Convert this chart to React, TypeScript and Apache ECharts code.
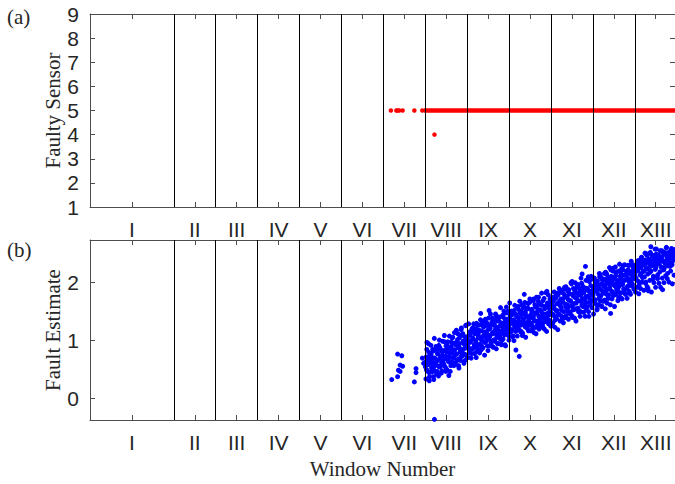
import React, { useEffect, useRef } from 'react';
import * as echarts from 'echarts';

// ---- data ----
const romanLabels = ['I', 'II', 'III', 'IV', 'V', 'VI', 'VII', 'VIII', 'IX', 'X', 'XI', 'XII', 'XIII'];
const windowCenters = [1, 2.5, 3.5, 4.5, 5.5, 6.5, 7.5, 8.5, 9.5, 10.5, 11.5, 12.5, 13.5];
const windowBoundaries = [2, 3, 4, 5, 6, 7, 8, 9, 10, 11, 12, 13];
const xMax = 13.96;

const sensorMin = 1;
const sensorMax = 9;
const estimateMin = -0.367;
const estimateMax = 2.736;
const estimateTicks = [0, 1, 2];

// faulty sensor (panel a): isolated detections, then continuous detection of sensor 5
const redSparse: [number, number][] = [
  [7.18, 5], [7.31, 5], [7.34, 5], [7.38, 5], [7.46, 5], [7.74, 5], [7.93, 5], [8.22, 4],
];
const redRun: [number, number][] = [[7.97, 5], [13.96, 5]];

// fault estimate (panel b): isolated points in window VII / early VIII
const blueSparse: [number, number][] = [
  [7.2, 0.33], [7.34, 0.77], [7.44, 0.74], [7.4, 0.58], [7.46, 0.56], [7.36, 0.49],
  [7.4, 0.47], [7.34, 0.38], [7.74, 0.29], [7.78, 0.52], [7.78, 0.45], [7.93, 0.7],
  [7.96, 0.61], [8.04, 0.97], [8.22, -0.355],
];

// per-window fault estimates: three interleaved sample streams
const sampleStep = 0.02;
const estVIIIa = [0.55, 0.72, 0.48, 0.66, 0.80, 0.38, 0.61, 0.74, 0.52, 0.69, 0.33, 0.58, 0.85, 0.63, 0.47, 0.77, 0.92, 0.56, 0.70, 0.44, 0.81, 0.65, 0.59, 0.98, 0.73, 0.51, 0.86, 0.68, 0.40, 0.79, 0.62, 0.90, 1.05, 0.71, 0.57, 0.84, 0.76, 1.18, 0.66, 0.88, 0.53, 0.95, 0.82, 1.22, 0.74, 0.99, 0.61, 0.87, 1.26, 0.93];
const estVIIIb = [0.64, 0.50, 0.71, 0.59, 0.45, 0.68, 0.76, 0.54, 0.63, 0.82, 0.49, 0.70, 0.60, 0.43, 0.78, 0.67, 0.55, 0.88, 0.72, 0.62, 0.75, 0.58, 0.83, 0.69, 0.47, 0.80, 0.91, 0.64, 0.73, 0.86, 0.57, 0.79, 0.96, 0.70, 0.84, 0.61, 0.93, 0.77, 1.02, 0.68, 0.89, 0.81, 0.72, 1.10, 0.85, 0.78, 0.94, 0.66, 1.01, 0.90];
const estVIIIc = [0.34, 0.85, 0.48, 0.95, 0.31, 0.77, 0.92, 0.46, 0.85, 0.38, 1.04, 0.57, 0.90, 0.46, 0.85, 0.39, 1.01, 0.55, 0.84, 0.48, 0.99, 0.60, 1.09, 0.55, 0.91, 0.50, 0.98, 0.69, 1.08, 0.47, 0.98, 0.63, 1.06, 0.70, 1.14, 0.59, 0.97, 0.67, 1.12, 0.57, 1.05, 0.66, 1.19, 0.77, 1.12, 0.64, 1.07, 0.76, 1.27, 0.70];
const estIXa = [0.92, 1.08, 0.85, 1.15, 0.99, 0.78, 1.21, 1.03, 0.88, 1.12, 0.96, 1.30, 0.82, 1.06, 1.18, 0.94, 1.47, 1.01, 0.87, 1.25, 1.10, 0.97, 1.33, 1.05, 0.91, 1.19, 1.52, 1.08, 0.99, 1.28, 1.14, 0.89, 1.36, 1.02, 1.22, 1.11, 0.95, 1.40, 1.17, 1.06, 1.31, 1.00, 1.24, 1.45, 1.13, 0.93, 1.29, 1.20, 1.37, 1.09];
const estIXb = [1.02, 0.89, 1.10, 0.97, 1.16, 0.86, 1.05, 1.23, 0.93, 1.13, 1.00, 1.20, 0.90, 1.09, 1.27, 1.04, 0.84, 1.17, 1.07, 1.34, 0.98, 1.15, 1.26, 1.03, 1.11, 1.39, 1.06, 1.21, 0.94, 1.32, 1.12, 1.01, 1.28, 1.18, 1.43, 1.08, 1.23, 1.35, 1.04, 1.26, 1.16, 1.42, 1.19, 1.30, 1.10, 1.34, 1.25, 1.48, 1.21, 1.33];
const estIXc = [0.71, 1.29, 0.79, 1.12, 0.70, 1.20, 0.86, 1.29, 0.78, 1.18, 0.71, 1.28, 0.84, 1.15, 0.79, 1.36, 0.92, 1.30, 0.88, 1.24, 0.75, 1.37, 0.99, 1.30, 0.83, 1.26, 0.91, 1.46, 0.99, 1.39, 0.89, 1.27, 0.99, 1.46, 0.86, 1.34, 0.95, 1.41, 1.10, 1.57, 0.93, 1.42, 1.03, 1.51, 1.38, 0.91, 1.58, 1.13, 1.51, 1.01];
const estXa = [1.22, 1.38, 1.15, 1.45, 1.30, 1.08, 1.52, 1.26, 0.84, 1.41, 1.19, 1.34, 0.73, 1.48, 1.27, 1.62, 1.13, 1.36, 1.80, 1.24, 1.44, 1.31, 1.55, 1.17, 1.39, 1.68, 1.28, 1.50, 1.21, 1.42, 1.35, 1.58, 1.12, 1.47, 1.33, 1.75, 1.25, 1.53, 1.40, 1.61, 1.30, 1.46, 1.20, 1.57, 1.37, 1.85, 1.43, 1.29, 1.64, 1.49];
const estXb = [1.28, 1.43, 1.33, 1.18, 1.50, 1.36, 1.24, 1.46, 1.31, 1.57, 1.26, 1.40, 1.52, 1.32, 1.16, 1.45, 1.38, 1.60, 1.29, 1.49, 1.41, 1.23, 1.56, 1.35, 1.66, 1.44, 1.30, 1.51, 1.39, 1.72, 1.34, 1.48, 1.59, 1.27, 1.54, 1.42, 1.63, 1.37, 1.50, 1.45, 1.69, 1.40, 1.55, 1.33, 1.61, 1.47, 1.58, 1.36, 1.53, 1.67];
const estXc = [1.65, 1.19, 1.51, 1.07, 1.46, 1.00, 1.61, 1.16, 1.44, 1.08, 1.59, 1.20, 1.68, 1.15, 1.50, 1.09, 1.57, 1.28, 1.66, 1.06, 1.56, 1.21, 1.64, 1.28, 1.72, 1.17, 1.54, 1.25, 1.69, 1.14, 1.62, 1.23, 1.75, 1.34, 1.68, 1.20, 1.63, 1.32, 1.82, 1.26, 1.22, 1.73, 1.36, 1.83, 1.16, 1.65, 1.79, 1.33, 1.72, 1.25];
const estXIa = [1.48, 1.62, 1.30, 1.70, 1.55, 1.41, 1.78, 1.52, 1.19, 1.66, 1.45, 1.84, 1.58, 1.36, 1.72, 1.50, 1.92, 1.63, 1.43, 1.76, 1.57, 1.88, 1.47, 1.69, 1.60, 2.02, 1.53, 1.81, 1.39, 1.74, 1.65, 1.96, 1.56, 1.79, 1.49, 1.86, 1.67, 2.15, 1.59, 1.83, 1.71, 2.28, 1.54, 1.90, 1.77, 1.42, 1.85, 1.68, 2.06, 1.80];
const estXIb = [1.56, 1.44, 1.67, 1.59, 1.35, 1.73, 1.51, 1.64, 1.79, 1.46, 1.61, 1.70, 1.53, 1.83, 1.66, 1.40, 1.75, 1.58, 1.90, 1.62, 1.71, 1.50, 1.81, 1.68, 1.98, 1.60, 1.77, 1.64, 1.87, 1.55, 1.73, 1.93, 1.69, 1.82, 1.51, 1.78, 1.99, 1.72, 1.85, 1.63, 1.91, 1.76, 1.66, 1.88, 2.10, 1.74, 1.84, 1.95, 1.70, 1.87];
const estXIc = [1.26, 1.75, 1.45, 1.84, 1.23, 1.74, 1.38, 1.82, 1.45, 1.90, 1.34, 1.72, 1.42, 1.87, 1.31, 1.80, 1.40, 1.93, 1.51, 1.86, 1.37, 1.81, 1.49, 2.00, 1.43, 1.40, 1.90, 1.54, 2.00, 1.34, 1.82, 1.97, 1.50, 1.90, 1.42, 2.08, 1.61, 1.94, 1.49, 1.89, 1.42, 2.04, 1.58, 1.87, 1.50, 2.02, 1.62, 2.11, 1.57, 1.93];
const estXIIa = [1.78, 1.92, 1.65, 2.01, 1.85, 1.55, 1.97, 1.73, 2.10, 1.88, 1.60, 2.05, 1.82, 1.94, 1.70, 2.18, 1.87, 1.99, 1.76, 2.08, 1.90, 1.47, 2.03, 1.84, 2.25, 1.96, 1.79, 2.12, 1.91, 2.00, 1.86, 2.20, 1.95, 1.74, 2.07, 1.98, 2.29, 1.89, 2.04, 1.81, 2.14, 1.93, 2.22, 2.02, 1.83, 2.16, 2.06, 1.97, 2.27, 2.10];
const estXIIb = [1.83, 1.71, 1.95, 1.88, 1.62, 2.03, 1.80, 1.91, 2.12, 1.77, 1.98, 1.86, 1.68, 2.06, 1.93, 1.81, 2.15, 1.89, 1.73, 2.01, 1.96, 2.22, 1.85, 1.99, 1.78, 2.09, 1.94, 2.17, 1.87, 2.04, 1.92, 1.75, 2.11, 2.00, 2.24, 1.97, 1.84, 2.13, 2.05, 1.90, 2.19, 2.08, 1.95, 2.30, 2.02, 2.14, 1.99, 2.21, 2.07, 2.18];
const estXIIc = [1.46, 2.08, 1.70, 2.01, 1.53, 1.96, 1.62, 2.16, 1.69, 2.09, 1.59, 1.97, 1.69, 2.16, 1.55, 2.03, 1.65, 2.10, 1.79, 2.26, 1.62, 2.11, 1.72, 2.20, 2.06, 1.59, 2.27, 1.81, 2.19, 1.69, 1.74, 2.32, 1.82, 2.15, 1.72, 2.22, 1.89, 2.31, 1.80, 2.20, 1.73, 2.30, 1.86, 2.17, 1.80, 2.37, 1.94, 2.31, 1.89, 2.25];
const estXIIIa = [2.12, 2.30, 2.05, 2.22, 2.38, 1.96, 2.27, 2.15, 2.44, 2.09, 2.33, 2.20, 2.51, 2.01, 2.36, 2.24, 1.86, 2.41, 2.18, 2.62, 2.29, 2.46, 2.11, 2.35, 2.58, 2.26, 2.40, 2.07, 2.48, 2.32, 2.19, 2.43, 2.55, 1.88, 2.37, 2.25, 2.50, 2.31, 2.45, 2.16, 2.39, 2.53, 2.28, 2.47, 2.34, 2.57, 2.42, 2.49];
const estXIIIb = [2.17, 2.08, 2.28, 2.21, 2.02, 2.35, 2.13, 2.26, 2.42, 2.19, 2.31, 2.10, 2.39, 2.24, 2.47, 2.15, 2.34, 2.27, 2.52, 2.20, 2.37, 2.06, 2.44, 2.30, 2.23, 2.49, 2.33, 2.14, 2.41, 2.36, 2.55, 2.27, 2.45, 2.38, 2.22, 2.50, 2.32, 2.60, 2.40, 2.29, 2.46, 2.36, 2.54, 2.43, 2.31, 2.48, 2.39, 2.52];
const estXIIIc = [1.84, 2.22, 1.92, 2.37, 1.81, 2.30, 1.90, 2.43, 2.01, 2.36, 1.87, 2.31, 1.99, 2.50, 1.93, 1.90, 2.40, 2.04, 2.50, 1.84, 2.32, 2.47, 2.00, 2.40, 1.92, 2.58, 2.11, 2.44, 1.99, 2.39, 1.92, 2.54, 2.08, 2.37, 2.00, 2.52, 2.12, 2.61, 2.07, 2.43, 2.01, 2.50, 2.20, 2.59, 1.98, 2.49, 2.13, 2.57];
const windowEstimates: { start: number; streams: number[][] }[] = [
  { start: 8, streams: [estVIIIa, estVIIIb, estVIIIc] },
  { start: 9, streams: [estIXa, estIXb, estIXc] },
  { start: 10, streams: [estXa, estXb, estXc] },
  { start: 11, streams: [estXIa, estXIb, estXIc] },
  { start: 12, streams: [estXIIa, estXIIb, estXIIc] },
  { start: 13, streams: [estXIIIa, estXIIIb, estXIIIc] },
];

const TICK_FONT = '"Liberation Sans", Arial, Helvetica, sans-serif';
const SERIF = '"Liberation Serif", "Times New Roman", Times, serif';
const AXIS_COLOR = '#4d4d4d';
const TEXT_COLOR = '#262626';

export default function App() {
  const ref = useRef<HTMLDivElement>(null);

  useEffect(() => {
    document.body.style.margin = '0';
    if (!ref.current) return;
    const chart = echarts.init(ref.current, undefined, { renderer: 'svg' });

    const blueData: [number, number][] = [...blueSparse];
    windowEstimates.forEach((w) => {
      w.streams.forEach((s, k) => {
        const offset = (k + 0.5) / w.streams.length;
        s.forEach((v, i) => blueData.push([w.start + (i + offset) * sampleStep, v]));
      });
    });

    const romanFormatter = (v: number) => {
      const idx = windowCenters.findIndex((c) => Math.abs(c - v) < 1e-6);
      return idx >= 0 ? romanLabels[idx] : '';
    };

    const xBottom = (gridIndex: number, withName: boolean) => ({
      type: 'value',
      gridIndex,
      min: 0,
      max: xMax,
      position: 'bottom',
      axisLine: { show: true, onZero: false, lineStyle: { color: AXIS_COLOR, width: 1 } },
      axisTick: { show: true, inside: true, length: 5, customValues: windowCenters, lineStyle: { color: AXIS_COLOR } },
      axisLabel: {
        show: true,
        customValues: windowCenters,
        formatter: romanFormatter,
        fontSize: 21,
        fontFamily: TICK_FONT,
        color: TEXT_COLOR,
        margin: 12,
        showMinLabel: true,
        showMaxLabel: true,
      },
      splitLine: { show: false },
      ...(withName
        ? {
            name: 'Window Number',
            nameLocation: 'middle',
            nameGap: 38,
            nameMoveOverlap: false,
            nameTextStyle: { fontSize: 21, fontFamily: SERIF, color: TEXT_COLOR },
          }
        : {}),
    });
    const xTop = (gridIndex: number) => ({
      type: 'value',
      gridIndex,
      min: 0,
      max: xMax,
      position: 'top',
      axisLine: { show: true, onZero: false, lineStyle: { color: AXIS_COLOR, width: 1 } },
      axisTick: { show: true, inside: true, length: 5, customValues: windowCenters, lineStyle: { color: AXIS_COLOR } },
      axisLabel: { show: false },
      splitLine: { show: false },
    });

    const option: any = {
      animation: false,
      backgroundColor: '#ffffff',
      grid: [
        { left: 90, top: 14, width: 586, height: 193 },
        { left: 90, top: 240, width: 586, height: 180 },
      ],
      xAxis: [xBottom(0, false), xTop(0), xBottom(1, true), xTop(1)],
      yAxis: [
        {
          type: 'value',
          gridIndex: 0,
          min: sensorMin,
          max: sensorMax,
          interval: 1,
          position: 'left',
          axisLine: { show: true, onZero: false, lineStyle: { color: AXIS_COLOR } },
          axisTick: { show: true, inside: true, length: 5, lineStyle: { color: AXIS_COLOR } },
          axisLabel: { fontSize: 21, fontFamily: TICK_FONT, color: TEXT_COLOR, margin: 11 },
          splitLine: { show: false },
          name: 'Faulty Sensor',
          nameLocation: 'middle',
          nameGap: 27,
          nameMoveOverlap: false,
          nameTextStyle: { fontSize: 21, fontFamily: SERIF, color: TEXT_COLOR },
        },
        {
          type: 'value',
          gridIndex: 0,
          min: sensorMin,
          max: sensorMax,
          interval: 1,
          position: 'right',
          axisLine: { show: true, onZero: false, lineStyle: { color: AXIS_COLOR } },
          axisTick: { show: true, inside: true, length: 5, lineStyle: { color: AXIS_COLOR } },
          axisLabel: { show: false },
          splitLine: { show: false },
        },
        {
          type: 'value',
          gridIndex: 1,
          min: estimateMin,
          max: estimateMax,
          position: 'left',
          axisLine: { show: true, onZero: false, lineStyle: { color: AXIS_COLOR } },
          axisTick: { show: true, inside: true, length: 5, customValues: estimateTicks, lineStyle: { color: AXIS_COLOR } },
          axisLabel: { customValues: estimateTicks, fontSize: 21, fontFamily: TICK_FONT, color: TEXT_COLOR, margin: 11 },
          splitLine: { show: false },
          name: 'Fault Estimate',
          nameLocation: 'middle',
          nameGap: 27,
          nameMoveOverlap: false,
          nameTextStyle: { fontSize: 21, fontFamily: SERIF, color: TEXT_COLOR },
        },
        {
          type: 'value',
          gridIndex: 1,
          min: estimateMin,
          max: estimateMax,
          position: 'right',
          axisLine: { show: true, onZero: false, lineStyle: { color: AXIS_COLOR } },
          axisTick: { show: true, inside: true, length: 5, customValues: estimateTicks, lineStyle: { color: AXIS_COLOR } },
          axisLabel: { show: false },
          splitLine: { show: false },
        },
      ],
      graphic: [
        { type: 'text', left: 7, top: 6, style: { text: '(a)', fontSize: 21, fontFamily: SERIF, fill: TEXT_COLOR } },
        { type: 'text', left: 7, top: 239, style: { text: '(b)', fontSize: 21, fontFamily: SERIF, fill: TEXT_COLOR } },
      ],
      series: [
        {
          type: 'line',
          xAxisIndex: 0,
          yAxisIndex: 0,
          data: redRun,
          showSymbol: false,
          symbol: 'none',
          lineStyle: { color: '#ff0000', width: 4.3 },
          z: 2,
        },
        {
          type: 'scatter',
          xAxisIndex: 0,
          yAxisIndex: 0,
          data: redSparse,
          symbol: 'circle',
          symbolSize: 4.5,
          itemStyle: { color: '#ff0000', opacity: 1 },
          z: 2,
        },
        {
          type: 'scatter',
          xAxisIndex: 2,
          yAxisIndex: 2,
          data: blueData,
          symbol: 'circle',
          symbolSize: 5,
          itemStyle: { color: '#0000ff', opacity: 1 },
          z: 2,
        },
        {
          type: 'line',
          xAxisIndex: 0,
          yAxisIndex: 0,
          data: [],
          z: 5,
          markLine: {
            silent: true,
            symbol: 'none',
            label: { show: false },
            lineStyle: { color: '#000000', width: 1, type: 'solid' },
            data: windowBoundaries.map((v) => ({ xAxis: v })),
          },
        },
        {
          type: 'line',
          xAxisIndex: 2,
          yAxisIndex: 2,
          data: [],
          z: 5,
          markLine: {
            silent: true,
            symbol: 'none',
            label: { show: false },
            lineStyle: { color: '#000000', width: 1, type: 'solid' },
            data: windowBoundaries.map((v) => ({ xAxis: v })),
          },
        },
      ],
    };

    chart.setOption(option);
    return () => chart.dispose();
  }, []);

  return <div ref={ref} style={{ width: 675, height: 484 }} />;
}
